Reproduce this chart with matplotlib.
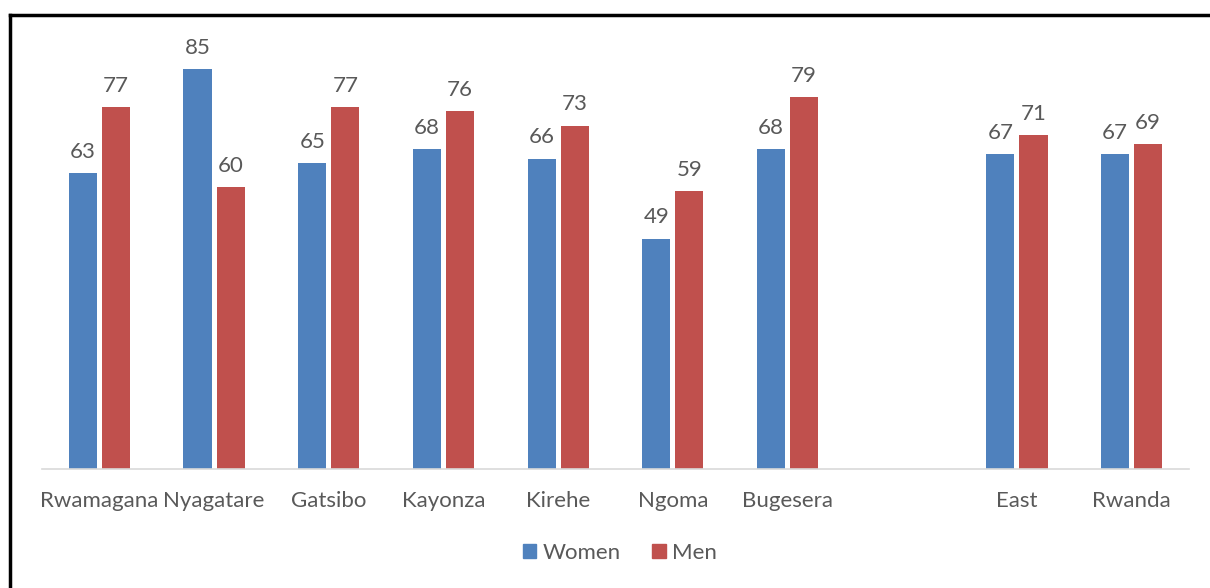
import numpy as np
import matplotlib.pyplot as plt
from matplotlib.lines import Line2D

# Data
categories = ['Rwamagana', 'Nyagatare', 'Gatsibo', 'Kayonza', 'Kirehe',
              'Ngoma', 'Bugesera', '', 'East', 'Rwanda']
women = [63, 85, 65, 68, 66, 49, 68, None, 67, 67]
men = [77, 60, 77, 76, 73, 59, 79, None, 71, 69]

blue = '#4F81BD'
red = '#C0504D'
text_col = '#595959'

plt.rcParams['font.family'] = ['Lato', 'DejaVu Sans']

fig = plt.figure(figsize=(12.10, 5.88), dpi=100)
ax = fig.add_axes([42 / 1210, 1 - 469 / 588, (1189 - 42) / 1210, 0.72])

x = np.arange(len(categories))
w = 0.245
off = 0.144

for i in x:
    if women[i] is None:
        continue
    ax.bar(i - off, women[i], w, color=blue)
    ax.bar(i + off, men[i], w, color=red)
    ax.annotate(str(women[i]), (i - off, women[i]), xytext=(0, 8),
                textcoords='offset points', ha='center', va='bottom',
                fontsize=16, color=text_col)
    ax.annotate(str(men[i]), (i + off, men[i]), xytext=(0, 8),
                textcoords='offset points', ha='center', va='bottom',
                fontsize=16, color=text_col)

ax.set_xlim(-0.5, len(categories) - 0.5)
ax.set_ylim(0, 90)
ax.set_xticks(x)
ax.set_xticklabels(categories, fontsize=16, color=text_col)
ax.tick_params(axis='x', length=0, pad=16)
ax.set_yticks([])
for s in ['top', 'right', 'left']:
    ax.spines[s].set_visible(False)
ax.spines['bottom'].set_color('#D9D9D9')
ax.spines['bottom'].set_linewidth(1.2)

handles = [plt.Rectangle((0, 0), 1, 1, color=blue),
           plt.Rectangle((0, 0), 1, 1, color=red)]
fig.legend(handles, ['Women', 'Men'], loc='center', bbox_to_anchor=(620 / 1210, 1 - 553 / 588),
           ncol=2, frameon=False, fontsize=16, labelcolor=text_col,
           handlelength=0.6, handleheight=0.6, handletextpad=0.3, columnspacing=1.4)

# outer frame (top and left edges visible in the crop)
fig.add_artist(Line2D([10 / 1210, 1.0], [1 - 15 / 588, 1 - 15 / 588], color='black', lw=2.5,
                      transform=fig.transFigure))
fig.add_artist(Line2D([10 / 1210, 10 / 1210], [0, 1 - 15 / 588], color='black', lw=2.5,
                      transform=fig.transFigure))

fig.savefig('out.png', dpi=100)
